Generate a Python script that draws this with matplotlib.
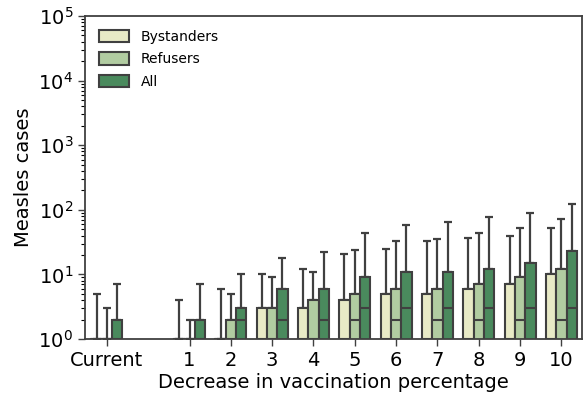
import numpy as np
import matplotlib
matplotlib.use("Agg")
import matplotlib.pyplot as plt

categories = ["Current", "1", "2", "3", "4", "5", "6", "7", "8", "9", "10"]
series = ["Bystanders", "Refusers", "All"]

bystanders_mean = [1, 1, 1, 3, 3, 4, 5, 5, 6, 7, 10]
refusers_mean = [1, 1, 2, 3, 4, 5, 6, 6, 7, 9, 12]
all_mean = [2, 2, 3, 6, 6, 9, 11, 11, 12, 15, 23]

bystanders_upper = [5, 4, 6, 10, 12, 21, 25, 33, 36, 40, 53]
refusers_upper = [3, 2, 5, 9, 11, 24, 33, 35, 44, 52, 71]
all_upper = [7, 7, 10, 18, 22, 44, 58, 65, 77, 89, 122]

bystanders_median = [1, 1, 1, 1, 1, 1, 1, 1, 1, 1, 1]
refusers_median = [1, 1, 1, 1, 1, 2, 2, 2, 2, 2, 2]
all_median = [1, 1, 2, 2, 2, 3, 3, 3, 3, 3, 3]

colors = ["#e8eac6", "#b1cca1", "#4a8a5d"]
edge = "#404040"

means = [bystanders_mean, refusers_mean, all_mean]
uppers = [bystanders_upper, refusers_upper, all_upper]
medians = [bystanders_median, refusers_median, all_median]

positions = np.array([0] + list(range(2, 12)), dtype=float)
width = 0.25
offsets = [-width, 0, width]

fig = plt.figure(figsize=(5.83, 4.0), dpi=100)
ax = fig.add_axes([85 / 583, 1 - 339 / 400, 497 / 583, 323 / 400])

for i, name in enumerate(series):
    x = positions + offsets[i]
    m = np.array(means[i], dtype=float)
    up = np.array(uppers[i], dtype=float)
    ax.bar(x, m, width=width, bottom=0, color=colors[i], edgecolor=edge,
           linewidth=1.5, label=name, zorder=2)
    ax.errorbar(x, m, yerr=[np.zeros_like(m), up - m], fmt="none",
                ecolor="#404040", elinewidth=1.6, capsize=2.6, capthick=1.6,
                zorder=1)
    for xi, med in zip(x, medians[i]):
        ax.plot([xi - width / 2, xi + width / 2], [med, med], color=edge,
                linewidth=1.5, zorder=3, solid_capstyle="butt")

ax.set_yscale("log")
ax.set_ylim(1, 1e5)
ax.set_xlim(-0.53, 11.5)
ax.set_xticks(positions)
ax.set_xticklabels(categories)
ax.tick_params(axis="both", labelsize=14, direction="out", color="#404040")
ax.tick_params(axis="both", which="major", length=5, width=1)
ax.tick_params(axis="y", which="minor", length=3, width=0.8)
ax.set_xlabel("Decrease in vaccination percentage", fontsize=14, labelpad=2)
ax.set_ylabel("Measles cases", fontsize=14)
for s in ax.spines.values():
    s.set_color("#404040")
    s.set_linewidth(1.3)

leg = ax.legend(loc="upper left", frameon=False, fontsize=10,
                handlelength=2.2, handleheight=1.0, borderaxespad=0.6,
                labelspacing=0.6)

fig.savefig("out.png", dpi=100)
